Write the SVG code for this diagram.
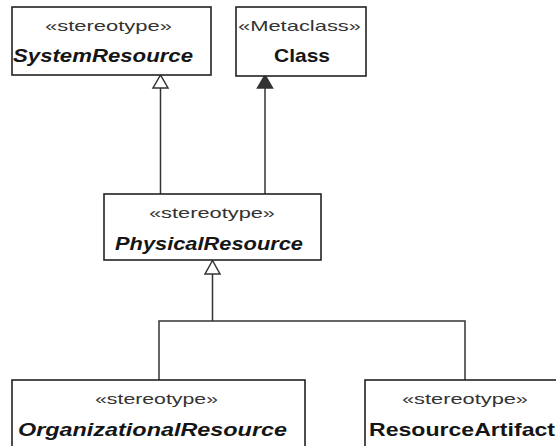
<svg xmlns="http://www.w3.org/2000/svg" width="556" height="446" viewBox="0 0 556 446">
  <style>
    .box { fill: #ffffff; stroke: #222222; stroke-width: 1.6; }
    .st { font-family: "Liberation Sans", Arial, sans-serif; font-size: 15px; fill: #333333; }
    .nm { font-family: "Liberation Sans", Arial, sans-serif; font-size: 19px; font-weight: bold; font-style: italic; fill: #151515; }
    .nmu { font-family: "Liberation Sans", Arial, sans-serif; font-size: 19px; font-weight: bold; fill: #151515; }
    .ln { fill: none; stroke: #333333; stroke-width: 1.5; }
    .hollow { fill: #ffffff; stroke: #333333; stroke-width: 1.5; }
    .filled { fill: #333333; stroke: #333333; stroke-width: 1.5; }
  </style>
  <rect width="556" height="446" fill="#ffffff"/>

  <g id="connectors">
    <path class="ln" d="M160.5,194 V88"/>
    <polygon class="hollow" points="160.5,75 153,88 168,88"/>
    <path class="ln" d="M265,194 V88"/>
    <polygon class="filled" points="265,75 257.5,88 272.5,88"/>
    <path class="ln" d="M212.5,274 V321 M159,380 V321 H465 V380"/>
    <polygon class="hollow" points="212.5,260.5 205,274 220,274"/>
  </g>

  <g id="SystemResource">
    <rect class="box" x="12" y="7" width="199" height="68"/>
    <text class="st" x="45" y="31" textLength="127" lengthAdjust="spacingAndGlyphs">«stereotype»</text>
    <text class="nm" x="13" y="62" textLength="180" lengthAdjust="spacingAndGlyphs">SystemResource</text>
  </g>

  <g id="Class">
    <rect class="box" x="236" y="7" width="130" height="69"/>
    <text class="st" x="238" y="31" textLength="123" lengthAdjust="spacingAndGlyphs">«Metaclass»</text>
    <text class="nmu" x="274" y="62" textLength="56" lengthAdjust="spacingAndGlyphs">Class</text>
  </g>

  <g id="PhysicalResource">
    <rect class="box" x="104" y="194" width="217" height="66"/>
    <text class="st" x="149" y="218" textLength="126" lengthAdjust="spacingAndGlyphs">«stereotype»</text>
    <text class="nm" x="115" y="250" textLength="188" lengthAdjust="spacingAndGlyphs">PhysicalResource</text>
  </g>

  <g id="OrganizationalResource">
    <rect class="box" x="12" y="380" width="293" height="100"/>
    <text class="st" x="95" y="404" textLength="123" lengthAdjust="spacingAndGlyphs">«stereotype»</text>
    <text class="nm" x="18" y="436" textLength="269" lengthAdjust="spacingAndGlyphs">OrganizationalResource</text>
  </g>

  <g id="ResourceArtifact">
    <rect class="box" x="365" y="380" width="220" height="100"/>
    <text class="st" x="402" y="404" textLength="126" lengthAdjust="spacingAndGlyphs">«stereotype»</text>
    <text class="nmu" x="369" y="436" textLength="186" lengthAdjust="spacingAndGlyphs">ResourceArtifact</text>
  </g>
</svg>
